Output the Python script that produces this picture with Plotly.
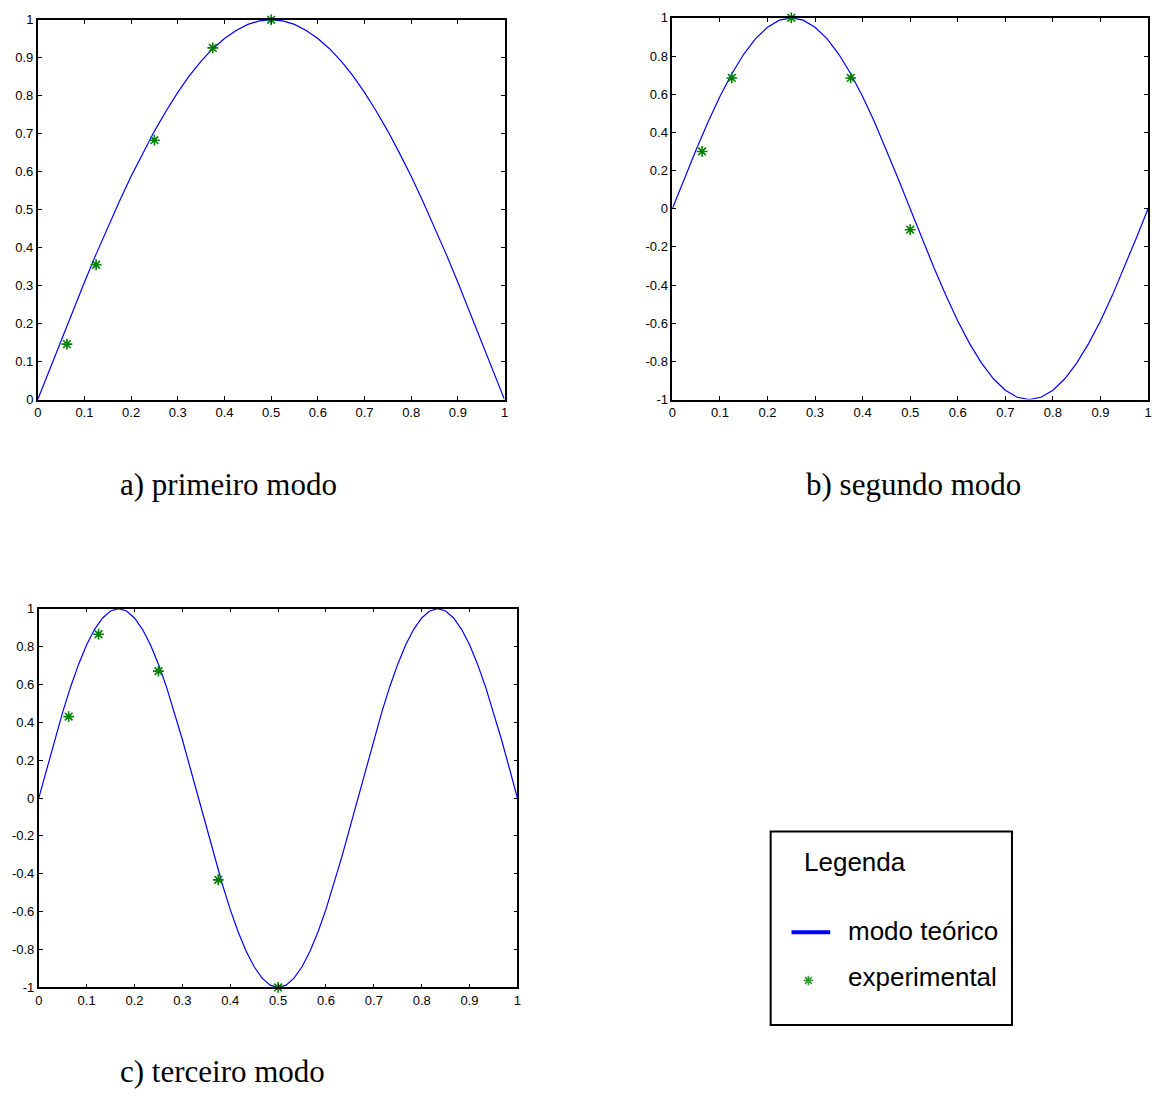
import numpy as np
import plotly.graph_objects as go

# ---------------- data ----------------
x_teo_1 = np.linspace(0, 1, 41)
y_teo_1 = [0, .078, .156, .233, .309, .383, .454, .522, .588, .649, .707, .760, .809, .853, .891,
           .924, .951, .972, .988, .997, 1, .997, .988, .972, .951, .924, .891, .853, .809, .760,
           .707, .649, .588, .522, .454, .383, .309, .233, .156, .078, 0]

x_teo_2 = np.linspace(0, 1, 41)
y_teo_2 = [0, .156, .309, .454, .588, .707, .809, .891, .951, .988, 1, .988, .951, .891, .809,
           .707, .588, .454, .309, .156, 0, -.156, -.309, -.454, -.588, -.707, -.809, -.891,
           -.951, -.988, -1, -.988, -.951, -.891, -.809, -.707, -.588, -.454, -.309, -.156, 0]

x_teo_3 = np.linspace(0, 1, 61)
y_teo_3 = [0, .156, .309, .454, .588, .707, .809, .891, .951, .988, 1, .988, .951, .891, .809,
           .707, .588, .454, .309, .156,
           0, -.156, -.309, -.454, -.588, -.707, -.809, -.891, -.951, -.988, -1, -.988, -.951,
           -.891, -.809, -.707, -.588, -.454, -.309, -.156,
           0, .156, .309, .454, .588, .707, .809, .891, .951, .988, 1, .988, .951, .891, .809,
           .707, .588, .454, .309, .156, 0]

x_exp = [0.0625, 0.125, 0.25, 0.375, 0.5]
y_exp_1 = [0.146, 0.355, 0.683, 0.926, 1.0]
y_exp_2 = [0.30, 0.685, 1.0, 0.685, -0.11]
y_exp_3 = [0.43, 0.865, 0.67, -0.432, -1.0]

x_ticks = [0, 0.1, 0.2, 0.3, 0.4, 0.5, 0.6, 0.7, 0.8, 0.9, 1]
x_ticktext = ["0", "0.1", "0.2", "0.3", "0.4", "0.5", "0.6", "0.7", "0.8", "0.9", "1"]
y_ticks_1 = [0, 0.1, 0.2, 0.3, 0.4, 0.5, 0.6, 0.7, 0.8, 0.9, 1]
y_ticktext_1 = ["0", "0.1", "0.2", "0.3", "0.4", "0.5", "0.6", "0.7", "0.8", "0.9", "1"]
y_ticks_2 = [-1, -0.8, -0.6, -0.4, -0.2, 0, 0.2, 0.4, 0.6, 0.8, 1]
y_ticktext_2 = ["-1", "-0.8", "-0.6", "-0.4", "-0.2", "0", "0.2", "0.4", "0.6", "0.8", "1"]

captions = ["a) primeiro modo", "b) segundo modo", "c) terceiro modo"]
legend_title = "Legenda"
legend_labels = ["modo teórico", "experimental"]

# ---------------- figure ----------------
W, H = 1156, 1098
BLUE = "#0000FF"
GREEN = "#008000"
SANS = "Liberation Sans, Arial, sans-serif"
SERIF = "Liberation Serif, Times New Roman, serif"

def px_x(a, b):
    return [a / W, b / W]

def px_y(top, bottom):
    return [1 - bottom / H, 1 - top / H]

fig = go.Figure()

panels = [
    (x_teo_1, y_teo_1, y_exp_1, "x", "y"),
    (x_teo_2, y_teo_2, y_exp_2, "x2", "y2"),
    (x_teo_3, y_teo_3, y_exp_3, "x3", "y3"),
]
for xt, yt, ye, xa, ya in panels:
    fig.add_trace(go.Scatter(x=xt, y=yt, mode="lines", line=dict(color=BLUE, width=1.2),
                             xaxis=xa, yaxis=ya, showlegend=False, hoverinfo="skip"))
    fig.add_trace(go.Scatter(x=x_exp, y=ye, mode="markers",
                             marker=dict(symbol="asterisk-open", size=9, color=GREEN,
                                         line=dict(color=GREEN, width=1.6)),
                             xaxis=xa, yaxis=ya, showlegend=False, hoverinfo="skip",
                             cliponaxis=False))

axis_common = dict(showline=True, mirror="ticks", ticks="inside", ticklen=4, tickwidth=1,
                   linecolor="black", linewidth=1.6, tickcolor="black", showgrid=False,
                   zeroline=False, tickfont=dict(family=SANS, size=13, color="black"),
                   fixedrange=True)

fig.update_layout(
    width=W, height=H, margin=dict(l=0, r=0, t=0, b=0),
    paper_bgcolor="white", plot_bgcolor="rgba(0,0,0,0)", showlegend=False,
    xaxis=dict(domain=px_x(34, 504), range=[0, 1], anchor="y", tickvals=x_ticks,
               ticktext=x_ticktext, **axis_common),
    yaxis=dict(domain=px_y(13, 398), range=[0, 1], anchor="x", tickvals=y_ticks_1,
               ticktext=y_ticktext_1, **axis_common),
    xaxis2=dict(domain=px_x(673, 1152), range=[0, 1], anchor="y2", tickvals=x_ticks,
                ticktext=x_ticktext, **axis_common),
    yaxis2=dict(domain=px_y(11, 398), range=[-1, 1], anchor="x2", tickvals=y_ticks_2,
                ticktext=y_ticktext_2, **axis_common),
    xaxis3=dict(domain=px_x(35, 517), range=[0, 1], anchor="y3", tickvals=x_ticks,
                ticktext=x_ticktext, **axis_common),
    yaxis3=dict(domain=px_y(610, 994), range=[-1, 1], anchor="x3", tickvals=y_ticks_2,
                ticktext=y_ticktext_2, **axis_common),
    # pixel-space overlay for the legend key (only over the legend area)
    xaxis4=dict(domain=px_x(772, 1015), range=[772, 1015], visible=False, anchor="y4",
                fixedrange=True),
    yaxis4=dict(domain=px_y(836, 1032), range=[1032, 836], visible=False, anchor="x4",
                fixedrange=True),
)

# legend key samples
fig.add_trace(go.Scatter(x=[793, 832], y=[938, 938], mode="lines",
                         line=dict(color=BLUE, width=4), xaxis="x4", yaxis="y4",
                         showlegend=False, hoverinfo="skip"))
fig.add_trace(go.Scatter(x=[810], y=[987], mode="markers",
                         marker=dict(symbol="asterisk-open", size=8, color="#2e9a2e",
                                     line=dict(color="#2e9a2e", width=1.6)),
                         xaxis="x4", yaxis="y4", showlegend=False, hoverinfo="skip"))

# legend box
fig.add_shape(type="rect", xref="paper", yref="paper",
              x0=772 / W, x1=1015 / W, y0=1 - 1032 / H, y1=1 - 836 / H,
              line=dict(color="black", width=2), fillcolor="rgba(0,0,0,0)")

def ann(text, xpx, ypx, size, family, xanchor="left"):
    fig.add_annotation(text=text, xref="paper", yref="paper", x=xpx / W, y=1 - ypx / H,
                       xanchor=xanchor, yanchor="middle", showarrow=False,
                       font=dict(family=family, size=size, color="black"))

ann(legend_title, 804, 867, 26, SANS)
ann(legend_labels[0], 848, 937, 26, SANS)
ann(legend_labels[1], 848, 983, 26, SANS)

ann(captions[0], 226, 484, 31, SERIF, "center")
ann(captions[1], 916, 484, 31, SERIF, "center")
ann(captions[2], 220, 1079, 31, SERIF, "center")

fig.write_html("out.html", config={"displayModeBar": False},
               post_script="document.body.style.margin='0px';")
